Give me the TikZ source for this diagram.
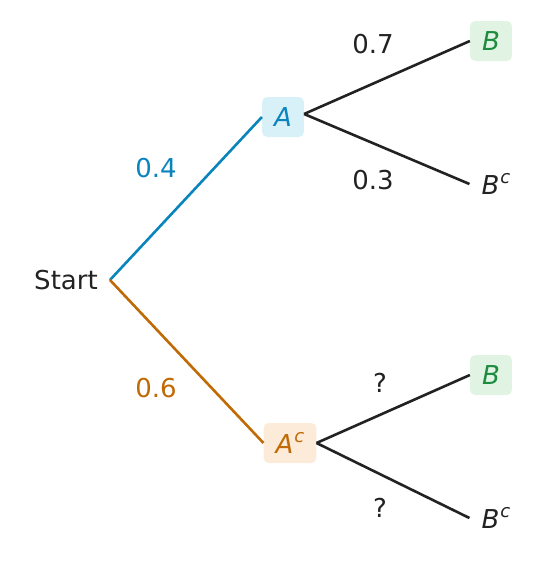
\documentclass[tikz,border=0pt]{standalone}
\usepackage{fontspec}
\setmainfont{DejaVu Sans}
\usetikzlibrary{positioning}
\definecolor{ink}{HTML}{222222}
\definecolor{pblue}{HTML}{0A84BD}
\definecolor{lblue}{HTML}{D8F0F8}
\definecolor{porange}{HTML}{C06A06}
\definecolor{lorange}{HTML}{FCEBD9}
\definecolor{pgreen}{HTML}{1E8C3E}
\definecolor{lgreen}{HTML}{E1F4E3}
\newcommand{\cmpl}[1]{\textit{#1}\kern1pt\raisebox{0.42em}{\fontsize{18}{18}\selectfont\textit{c}}}
\tikzset{evbox/.style={rounded corners=5pt,inner xsep=12pt,inner ysep=0pt,minimum height=40pt},
	 abox/.style={evbox,fill=lblue,text=pblue},
	 acbox/.style={evbox,fill=lorange,text=porange},
	 bbox/.style={evbox,fill=lgreen,text=pgreen},
	 plain/.style={inner xsep=12pt},
	 branch/.style={line width=2.6pt},
	 node distance = 1
	 }

\begin{document}
\begin{tikzpicture}[x=1pt,y=-1pt,font=\fontsize{26}{31}\selectfont,text=ink]
	\useasboundingbox (0,0) rectangle (547,562);
	\node[plain] (s) at (66,280) {Start};
	\node[abox] (a) at (283,117) {\textit{A}};
	\node[acbox] (ac) at (290,443) {\cmpl{A}};
	\node[bbox] (b1) at (491,41) {\textit{B}};
	\node[plain] (bc1) at (496,184) {\cmpl{B}};
	\node[bbox] (b2) at (491,375) {\textit{B}};
	\node[plain] (bc2) at (496,518) {\cmpl{B}};
	\node[text=pblue] (pa) at (156,168) {0.4};
	\node[text=porange] (pac) at (156,388) {0.6};
	\node (pb1) at (373,44) {0.7};
	\node (pbc1) at (373,180) {0.3};
	\node (pb2) at (380,383) {?};
	\node (pbc2) at (380,508) {?};
	\draw[branch,pblue] (s.east) to (a.west);
	\draw[branch,porange] (s.east) to (ac.west);
	\draw[branch,ink] ([yshift=3pt]a.east) to (b1.west);
	\draw[branch,ink] ([yshift=3pt]a.east) to (bc1.west);
	\draw[branch,ink] (ac.east) to (b2.west);
	\draw[branch,ink] (ac.east) to (bc2.west);
\end{tikzpicture}
\end{document}
